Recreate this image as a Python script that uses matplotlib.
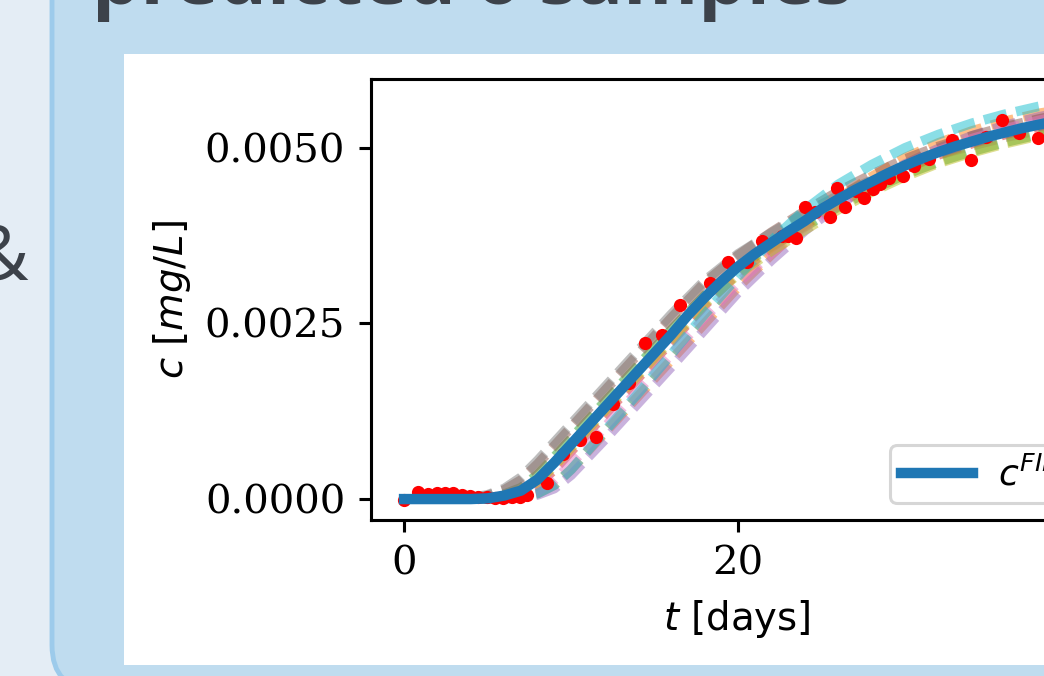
import matplotlib
matplotlib.use("Agg")
import matplotlib.pyplot as plt
from matplotlib.patches import Rectangle, FancyBboxPatch
from matplotlib.transforms import Bbox, TransformedBbox

# ---------------- data ----------------
# observed concentrations (red dots): time [days], c [mg/L]
obs_t = [0.0, 0.84, 1.44, 1.98, 2.46, 2.93, 3.47, 3.95, 4.43, 4.97, 5.45, 5.93,
         6.47, 6.95, 7.37, 8.56, 9.52, 10.54, 11.50, 12.51, 13.47, 14.43, 15.45,
         16.53, 18.32, 19.40, 20.54, 21.44, 22.63, 22.99, 23.47, 24.01, 24.61,
         25.51, 25.93, 26.41, 27.07, 27.54, 28.08, 28.50, 29.04, 29.88, 30.54,
         31.44, 32.81, 33.95, 34.85, 35.81, 36.83, 37.96]
obs_c = [-0.00001, 0.00010, 0.00007, 0.000085, 0.000085, 0.000085, 0.00006,
         0.00004, 0.00003, 0.00003, 0.00001, 0.00001, 0.00003, 0.00003, 0.00006,
         0.00023, 0.00064, 0.00084, 0.00088, 0.00135, 0.00165, 0.00222, 0.00233,
         0.00276, 0.00307, 0.00337, 0.00337, 0.00368, 0.00375, 0.00374, 0.00372,
         0.00416, 0.00408, 0.00401, 0.00443, 0.00416, 0.00438, 0.00428, 0.00442,
         0.00449, 0.00457, 0.00460, 0.00474, 0.00484, 0.00511, 0.00482, 0.00516,
         0.00540, 0.00521, 0.00514]

# fitted curve c^FIN (values in 1e-3 mg/L)
fit_t = list(range(0, 41))
fit_c = [0.0, 0.0, 0.0, 0.0, 0.0, 0.01, 0.05, 0.12, 0.28, 0.52, 0.78, 1.04,
         1.30, 1.56, 1.82, 2.08, 2.34, 2.62, 2.87, 3.10, 3.31, 3.49, 3.65, 3.81,
         3.96, 4.13, 4.27, 4.40, 4.52, 4.64, 4.75, 4.85, 4.94, 5.02, 5.09, 5.16,
         5.22, 5.28, 5.33, 5.38, 5.42]

# predicted samples (values in 1e-3 mg/L)
samp_t = [0, 4, 5, 6, 7, 8, 9, 10, 12, 14, 16, 18, 20, 22, 24, 26, 28, 30, 32,
          34, 36, 38, 40]
samp_orange = [0, 0.00, 0.00, 0.01, 0.03, 0.08, 0.20, 0.42, 0.94, 1.46, 1.98,
               2.50, 3.02, 3.48, 3.92, 4.28, 4.59, 4.86, 5.07, 5.24, 5.38, 5.49, 5.57]
samp_green = [0, 0.00, 0.02, 0.07, 0.16, 0.35, 0.60, 0.86, 1.38, 1.90, 2.41,
              2.90, 3.30, 3.60, 3.88, 4.16, 4.40, 4.62, 4.80, 4.95, 5.08, 5.19, 5.28]
samp_red = [0, 0.00, 0.01, 0.03, 0.08, 0.20, 0.42, 0.68, 1.20, 1.72, 2.24,
            2.76, 3.22, 3.58, 3.90, 4.21, 4.47, 4.70, 4.90, 5.06, 5.19, 5.30, 5.40]
samp_purple = [0, 0.00, 0.00, 0.00, 0.02, 0.06, 0.15, 0.34, 0.84, 1.36, 1.88,
               2.41, 2.94, 3.40, 3.82, 4.18, 4.49, 4.77, 4.99, 5.17, 5.32, 5.44, 5.53]
samp_brown = [0, 0.01, 0.05, 0.13, 0.27, 0.50, 0.76, 1.02, 1.54, 2.06, 2.58,
              3.08, 3.47, 3.80, 4.10, 4.38, 4.62, 4.84, 5.02, 5.17, 5.30, 5.41, 5.50]
samp_pink = [0, 0.00, 0.00, 0.01, 0.04, 0.11, 0.27, 0.50, 1.02, 1.54, 2.06,
             2.58, 3.08, 3.50, 3.87, 4.21, 4.50, 4.75, 4.96, 5.13, 5.27, 5.39, 5.49]
samp_gray = [0, 0.02, 0.06, 0.15, 0.31, 0.55, 0.81, 1.07, 1.59, 2.11, 2.63,
             3.11, 3.49, 3.79, 4.07, 4.32, 4.54, 4.74, 4.90, 5.03, 5.15, 5.25, 5.33]
samp_olive = [0, 0.00, 0.01, 0.04, 0.10, 0.24, 0.47, 0.73, 1.25, 1.76, 2.27,
              2.78, 3.20, 3.53, 3.83, 4.12, 4.37, 4.59, 4.78, 4.93, 5.06, 5.17, 5.26]
samp_cyan = [0, 0.00, 0.00, 0.01, 0.03, 0.08, 0.20, 0.42, 0.96, 1.50, 2.06,
             2.63, 3.17, 3.68, 4.12, 4.48, 4.76, 5.00, 5.19, 5.35, 5.48, 5.59, 5.68]
samples = [("C1", samp_orange), ("C2", samp_green), ("C3", samp_red),
           ("C4", samp_purple), ("C5", samp_brown), ("C6", samp_pink),
           ("C7", samp_gray), ("C8", samp_olive), ("C9", samp_cyan)]

x_ticks = [0, 20, 40]
y_ticks = [0.0, 0.0025, 0.0050]
title_text = "predicted 6 samples"
side_text = "&"
legend_label = r"$c^{FIN}$"

# ---------------- figure ----------------
W, H = 1044, 676
S = 2.78
plt.rcParams.update({
    "font.family": ["DejaVu Sans"],
    "font.size": 10 * S,
    "mathtext.fontset": "dejavusans",
    "axes.linewidth": 0.8 * S,
    "xtick.major.size": 3.2 * S, "ytick.major.size": 3.2 * S,
    "xtick.major.width": 0.8 * S, "ytick.major.width": 0.8 * S,
    "xtick.major.pad": 3.5 * S, "ytick.major.pad": 3.5 * S,
    "axes.labelpad": 4 * S,
})

fig = plt.figure(figsize=(W / 100, H / 100), dpi=100)

# background poster in pixel coordinates
bg = fig.add_axes([0, 0, 1, 1], zorder=0)
bg.set_xlim(0, W)
bg.set_ylim(H, 0)
bg.axis("off")
bg.add_patch(Rectangle((0, 0), W, H, fc="#e4edf5", ec="none"))
bg.add_patch(FancyBboxPatch((52, -80), 1200, 770,
                            boxstyle="round,pad=0,rounding_size=45",
                            fc="#bfdcef", ec="#9dcbeb", lw=3.5))
bg.add_patch(Rectangle((124, 54), W, 611, fc="white", ec="none"))
title = bg.text(92, 4, title_text, ha="left", va="baseline",
                fontsize=55, fontweight="bold", family=["Open Sans", "DejaVu Sans"],
                color="#3c424a")
title.set_clip_box(TransformedBbox(Bbox.from_extents(0, -200, W, 24), bg.transData))
bg.text(29, 279, side_text, ha="right", va="baseline", fontsize=54,
        family=["Open Sans", "DejaVu Sans"], color="#3c424a")

# main chart
ax_left, ax_right, ax_top, ax_bot = 371, 1103, 79, 520
ax = fig.add_axes([ax_left / W, (H - ax_bot) / H, (ax_right - ax_left) / W,
                   (ax_bot - ax_top) / H], zorder=2)
for col, vals in samples:
    ax.plot(samp_t, [v * 1e-3 for v in vals], color=col, ls="--",
            dashes=(2.4, 1.0), lw=7.0, alpha=0.5, zorder=2)
ax.plot(obs_t, obs_c, "o", color="red", ms=9.5, mew=0, zorder=3)
ax.plot(fit_t, [v * 1e-3 for v in fit_c], color="C0", lw=7.5, zorder=4,
        label=legend_label, solid_capstyle="projecting")

ax.set_xlim(-1.98, 41.85)
ax.set_ylim(-0.000298, 0.00598)
ax.set_xticks(x_ticks)
ax.set_yticks(y_ticks)
ax.yaxis.set_major_formatter(matplotlib.ticker.FormatStrFormatter("%.4f"))
ax.tick_params(labelfontfamily="DejaVu Serif", labelsize=29)
ax.set_xlabel(r"$t$ [days]")
ax.set_ylabel(r"$c$ [$mg/L$]")
ax.yaxis.set_label_coords((193 - ax_left) / (ax_right - ax_left), 0.5)
leg = ax.legend(loc="lower left", bbox_to_anchor=(890, 503),
                bbox_transform=bg.transData, borderaxespad=0,
                fontsize=26, borderpad=0.3, handlelength=2.0, handletextpad=0.7)
leg.get_frame().set_linewidth(2.2)

fig.savefig("out.png", dpi=100)
